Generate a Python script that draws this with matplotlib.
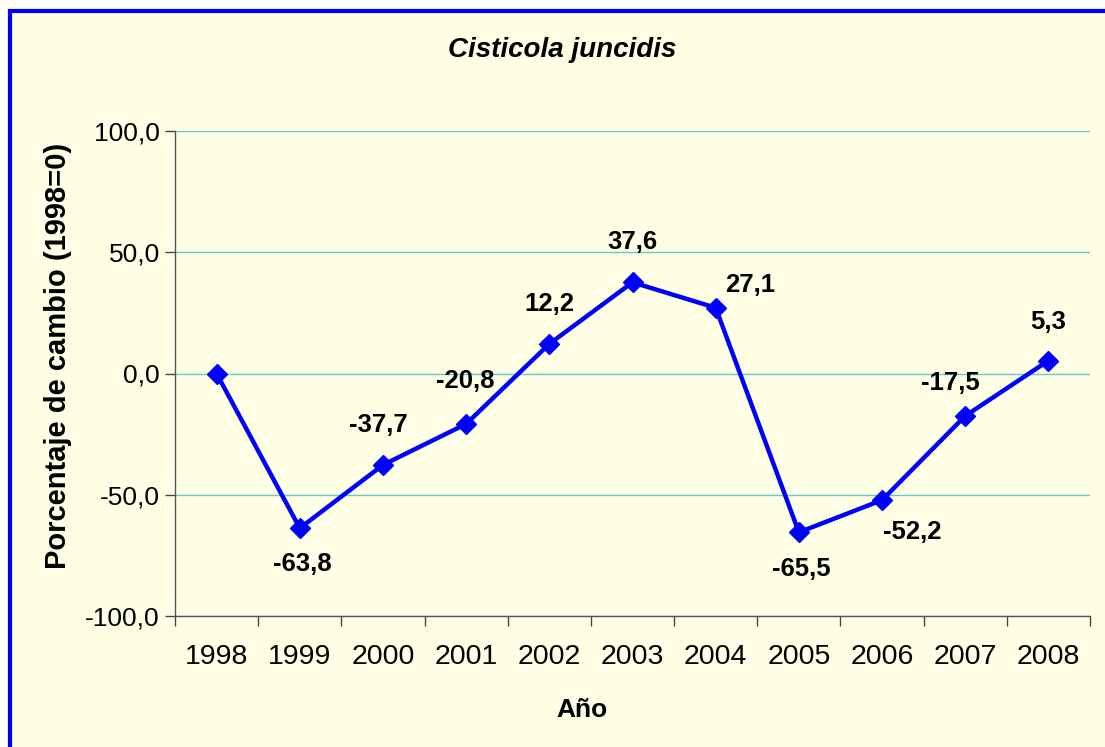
import matplotlib
matplotlib.use("Agg")
import matplotlib.pyplot as plt
from matplotlib.patches import Rectangle
import numpy as np

years = ["1998", "1999", "2000", "2001", "2002", "2003", "2004", "2005", "2006", "2007", "2008"]
values = [0.0, -63.8, -37.7, -20.8, 12.2, 37.6, 27.1, -65.5, -52.2, -17.5, 5.3]
labels = ["", "-63,8", "-37,7", "-20,8", "12,2", "37,6", "27,1", "-65,5", "-52,2", "-17,5", "5,3"]
# label offsets in pixels (dx, dy)
offsets = [(0, 0), (3, -36), (-5, 40), (-1, 43), (0, 40), (0, 40), (35, 23), (2, -37), (30, -32), (-15, 33), (0, 39)]
yticks = [-100, -50, 0, 50, 100]
ytick_labels = ["-100,0", "-50,0", "0,0", "50,0", "100,0"]

plt.rcParams['font.family'] = ['Liberation Sans', 'DejaVu Sans']

W, H = 1105, 747
fig = plt.figure(figsize=(W / 100, H / 100), dpi=100)
fig.patch.set_facecolor('white')
bg = '#FFFFE6'
fig.patches.append(Rectangle((10 / W, -0.05), 1.2, 1 - 11 / H + 0.05, transform=fig.transFigure,
                             facecolor=bg, edgecolor='#0000FF', linewidth=3, zorder=-10))

ax = fig.add_axes([175 / W, 1 - 616 / H, (1090 - 175) / W, (616 - 131) / H])
ax.set_facecolor(bg)
x = np.arange(len(years))
ax.plot(x, values, color='#0000FF', linewidth=3.2, marker='D', markersize=10.5, zorder=3)

for xi, v, lab, (dx, dy) in zip(x, values, labels, offsets):
    if lab:
        ax.annotate(lab, (xi, v), xytext=(dx, dy), textcoords='offset pixels',
                    ha='center', va='center', fontsize=18.5, fontweight='bold', color='black')

ax.set_xlim(-0.5, len(years) - 0.5)
ax.set_ylim(-100, 100)
ax.set_yticks(yticks)
ax.set_yticklabels(ytick_labels)
ax.set_xticks(x)
ax.set_xticklabels(years)
ax.set_xticks(np.arange(-0.5, len(years)), minor=True)
ax.tick_params(axis='x', which='major', length=0, pad=20, labelsize=20.5)
ax.tick_params(axis='x', which='minor', length=7, width=1, color='#444444')
ax.tick_params(axis='y', length=7, width=1, color='#444444', pad=4, labelsize=19)
ax.yaxis.grid(True, color='#66C8C8', linewidth=1)
ax.set_axisbelow(True)
for s in ['top', 'right']:
    ax.spines[s].set_visible(False)
for s in ['left', 'bottom']:
    ax.spines[s].set_color('#555555')
    ax.spines[s].set_linewidth(1)

fig.text(562 / W, 1 - 50 / H, "Cisticola juncidis", ha='center', va='center',
         fontsize=20, fontweight='bold', fontstyle='italic')
fig.text(582 / W, 1 - 710 / H, "Año", ha='center', va='center', fontsize=19, fontweight='bold')
fig.text(58 / W, 1 - 356 / H, "Porcentaje de cambio (1998=0)", ha='center', va='center',
         rotation=90, fontsize=21, fontweight='bold')

fig.savefig("out.png", dpi=100, facecolor=fig.get_facecolor())
